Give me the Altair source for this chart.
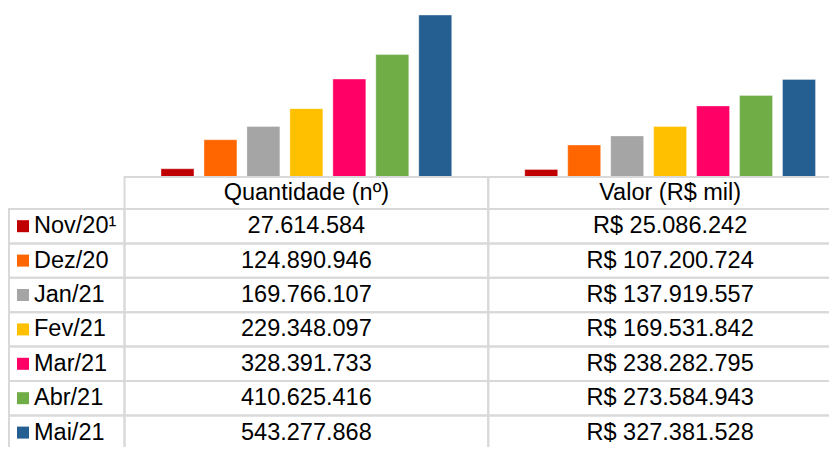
import altair as alt
import pandas as pd

meses = ["Nov/20¹", "Dez/20", "Jan/21", "Fev/21", "Mar/21", "Abr/21", "Mai/21"]
quantidade = [27614584, 124890946, 169766107, 229348097, 328391733, 410625416, 543277868]
valor = [25086242, 107200724, 137919557, 169531842, 238282795, 273584943, 327381528]
colunas = ["Quantidade (nº)", "Valor (R$ mil)"]
cores = ["#C00000", "#FF6600", "#A5A5A5", "#FFC000", "#FF0066", "#70AD47", "#255E91"]


def fmt(n):
    return f"{n:,}".replace(",", ".")


rows = []
for m, q, v in zip(meses, quantidade, valor):
    rows.append({"mes": m, "coluna": colunas[0], "valor": q, "texto": fmt(q)})
    rows.append({"mes": m, "coluna": colunas[1], "valor": v, "texto": "R$ " + fmt(v)})
df = pd.DataFrame(rows)
hdr = pd.DataFrame({"coluna": colunas})
leg = pd.DataFrame({"mes": meses})

FONT = "Liberation Sans"
FS = 23.5
GRID = "#d9d9d9"

x_col = alt.X("coluna:N", sort=colunas,
              scale=alt.Scale(domain=colunas, range=[116.5, 844], paddingInner=0, paddingOuter=0),
              axis=None)
y_row = alt.Y("mes:N", sort=meses,
              scale=alt.Scale(domain=meses, range=[201, 441.8], paddingInner=0, paddingOuter=0),
              axis=None)
color_enc = alt.Color("mes:N", sort=meses, scale=alt.Scale(domain=meses, range=cores), legend=None)

bars = alt.Chart(df).mark_bar(stroke="white", strokeOpacity=0.35, strokeWidth=1).encode(
    x=x_col,
    xOffset=alt.XOffset("mes:N", sort=meses,
                        scale=alt.Scale(domain=meses, paddingInner=0.233, paddingOuter=0.85)),
    y=alt.Y("valor:Q", scale=alt.Scale(domain=[0, 567000000], range=[169, 0], nice=False, zero=True),
            axis=None),
    color=color_enc,
)

cells = alt.Chart(df).mark_rect(fill="white", fillOpacity=0, stroke=GRID, strokeWidth=2).encode(
    x=x_col, y=y_row
)
hdr_cells = alt.Chart(hdr).mark_rect(fill="white", fillOpacity=0, stroke=GRID, strokeWidth=2).encode(
    x=x_col, y=alt.value(169), y2=alt.value(201)
)
lbl_cells = alt.Chart(leg).mark_rect(fill="white", fillOpacity=0, stroke=GRID, strokeWidth=2).encode(
    x=alt.value(1), x2=alt.value(116.5), y=y_row
)

cell_text = alt.Chart(df).mark_text(font=FONT, fontSize=FS, color="black").encode(
    x=x_col, y=y_row, text="texto:N"
)
hdr_text = alt.Chart(hdr).mark_text(font=FONT, fontSize=FS, color="black").encode(
    x=x_col, y=alt.value(185), text="coluna:N"
)
keys = alt.Chart(leg).mark_square(size=144, opacity=1, filled=True).encode(
    x=alt.value(15), y=y_row, color=color_enc
)
key_text = alt.Chart(leg).mark_text(font=FONT, fontSize=FS, color="black", align="left").encode(
    x=alt.value(26), y=y_row, text="mes:N"
)

chart = alt.layer(
    bars, cells, hdr_cells, lbl_cells, cell_text, hdr_text, keys, key_text
).resolve_scale(y="independent").properties(
    width=821, height=439,
    autosize=alt.AutoSizeParams(type="none"),
    padding=0,
    background="white",
).configure_view(stroke=None)

chart.save("out.html", embed_options={"renderer": "svg", "actions": False})
